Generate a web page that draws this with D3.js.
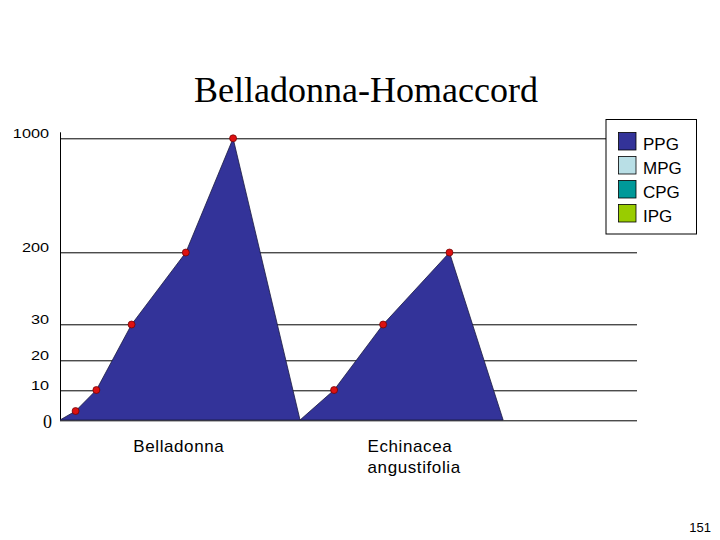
<!DOCTYPE html>
<html>
<head>
<meta charset="utf-8">
<script src="https://cdn.jsdelivr.net/npm/d3@7"></script>
<style>
  body { margin: 0; background: #fff; }
</style>
</head>
<body>
<div id="chart"></div>
<script>
// y ticks are spaced unevenly in the original, so the scale is piecewise
const yTicks = [0, 10, 20, 30, 200, 1000];
const seriesNames = ["PPG", "MPG", "CPG", "IPG"];
const seriesColors = ["#333399", "#b9dfe6", "#009999", "#99cc00"];
const categories = ["Belladonna", "Echinacea angustifolia"];
const categoryX = [12.7, 53.3];

// PPG readings; x is the position along the base line (0-100)
const belladonnaX = [0, 2.7, 6.3, 12.4, 21.8, 30.0, 41.6];
const belladonnaPPG = [0, 3, 10, 30, 200, 1000, 0];
const echinaceaX = [41.6, 47.5, 56.0, 67.5, 76.8];
const echinaceaPPG = [0, 10, 30, 200, 0];

const W = 720, H = 540;
const margin = { top: 138.3, right: 83, bottom: 120, left: 60 };
const width = W - margin.left - margin.right;
const height = H - margin.top - margin.bottom;

const root = d3.select("#chart").append("svg")
    .attr("width", W)
    .attr("height", H)
    .style("font-family", "Arial, 'Liberation Sans', sans-serif");

root.append("text")
    .attr("x", 366)
    .attr("y", 102)
    .attr("text-anchor", "middle")
    .style("font-family", "'Times New Roman', 'Liberation Serif', serif")
    .style("font-size", "36px")
    .text("Belladonna-Homaccord");

const svg = root.append("g")
    .attr("transform", `translate(${margin.left},${margin.top})`);

const x = d3.scaleLinear().domain([0, 100]).range([0, width]);
const y = d3.scaleLinear()
    .domain(yTicks)
    .range([height, height - 30, height - 60, height - 95.5, height - 167.5, 0]);

// grid lines
svg.selectAll(".grid")
    .data(yTicks)
    .join("line")
    .attr("class", "grid")
    .attr("x1", 0)
    .attr("x2", width)
    .attr("y1", d => Math.round(y(d)) + 0.5)
    .attr("y2", d => Math.round(y(d)) + 0.5)
    .attr("stroke", "#000")
    .attr("stroke-width", 1);

// axis line
svg.append("line")
    .attr("x1", 0.5).attr("x2", 0.5)
    .attr("y1", -6).attr("y2", height)
    .attr("stroke", "#000");

// tick labels (stretched sideways like the original)
svg.selectAll(".tick-label")
    .data(yTicks.filter(d => d > 0))
    .join("text")
    .attr("class", "tick-label")
    .attr("transform", d => `translate(-11,${y(d) - 0.5}) scale(1.25,1)`)
    .attr("text-anchor", "end")
    .style("font-size", "13px")
    .text(d => d);

svg.append("text")
    .attr("x", -8)
    .attr("y", y(0) + 8)
    .attr("text-anchor", "end")
    .style("font-family", "'Times New Roman', 'Liberation Serif', serif")
    .style("font-size", "18px")
    .text("0");

const area = d3.area()
    .x(d => x(d.x))
    .y0(y(0))
    .y1(d => y(d.v));

const groups = [
    belladonnaX.map((v, i) => ({ x: v, v: belladonnaPPG[i] })),
    echinaceaX.map((v, i) => ({ x: v, v: echinaceaPPG[i] }))
];

svg.selectAll(".area")
    .data(groups)
    .join("path")
    .attr("class", "area")
    .attr("d", area)
    .attr("fill", seriesColors[0])
    .attr("stroke", "#1a1a40")
    .attr("stroke-width", 0.8);

svg.selectAll(".marker")
    .data(groups.flat().filter(d => d.v > 0))
    .join("circle")
    .attr("class", "marker")
    .attr("cx", d => x(d.x))
    .attr("cy", d => y(d.v))
    .attr("r", 3.5)
    .attr("fill", "#dd1111")
    .attr("stroke", "#6a0000")
    .attr("stroke-width", 0.7);

// category labels
const cat = svg.selectAll(".cat")
    .data(categories)
    .join("text")
    .attr("class", "cat")
    .attr("x", (d, i) => x(categoryX[i]))
    .attr("y", height + 32)
    .style("font-size", "17px")
    .style("letter-spacing", "0.6px");
cat.selectAll("tspan")
    .data(d => d.split(" "))
    .join("tspan")
    .attr("x", function () { return this.parentNode.getAttribute("x"); })
    .attr("dy", (d, i) => i === 0 ? 0 : 21)
    .text(d => d);

// legend
const legend = root.append("g").attr("transform", "translate(606,119.5)");
legend.append("rect")
    .attr("width", 90.5)
    .attr("height", 114.5)
    .attr("fill", "#fff")
    .attr("stroke", "#000");
const item = legend.selectAll(".item")
    .data(seriesNames)
    .join("g")
    .attr("class", "item")
    .attr("transform", (d, i) => `translate(12.5,${13 + i * 24})`);
item.append("rect")
    .attr("width", 17.5)
    .attr("height", 17.5)
    .attr("fill", (d, i) => seriesColors[i])
    .attr("stroke", "#000")
    .attr("stroke-width", 0.8);
item.append("text")
    .attr("x", 24.5)
    .attr("y", 17)
    .style("font-size", "17px")
    .text(d => d);

root.append("text")
    .attr("x", 711)
    .attr("y", 531.5)
    .attr("text-anchor", "end")
    .style("font-size", "13px")
    .text("151");
</script>
</body>
</html>
